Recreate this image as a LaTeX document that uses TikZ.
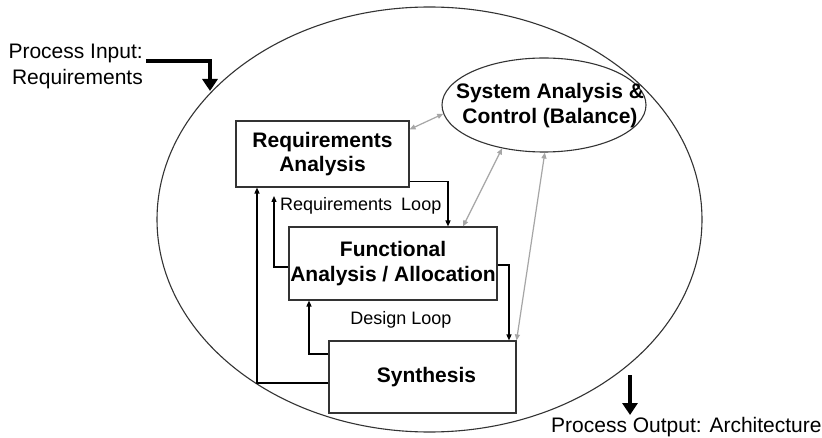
\documentclass[tikz,border=0pt]{standalone}
\usepackage{fontspec}
\setmainfont{Liberation Sans}
\usetikzlibrary{shapes.geometric,arrows.meta}
\begin{document}
\begin{tikzpicture}[x=1pt,y=-1pt,
  box/.style={draw=black!80,line width=1.1pt,rectangle,inner sep=0pt,align=center,
              font=\fontsize{21}{24.5}\selectfont\bfseries},
  boldtext/.style={inner sep=0pt,align=center,font=\fontsize{21}{25}\selectfont\bfseries},
  loopflow/.style={line width=1.3pt,-{Triangle[width=5pt,length=6pt]}},
  balance/.style={draw=black!35,line width=1.2pt,
                  {Triangle[width=5pt,length=6pt]}-{Triangle[width=5pt,length=6pt]}},
  bigflow/.style={line width=4pt,-{Triangle[width=15pt,length=12pt]}},
  lbl/.style={inner sep=0pt,font=\fontsize{18}{21}\selectfont}]
\useasboundingbox (0,0) rectangle (822,438);
\clip (0,0) rectangle (822,438);
\fill[white] (0,0) rectangle (822,438);

% outer process boundary
\node[ellipse,draw=black!80,line width=1.1pt,minimum width=545pt,minimum height=425pt,
      inner sep=0pt] (process) at (429.5,219.5) {};

% process steps
\node[box,minimum width=173pt,minimum height=66pt] (ra) at (322.5,154) {Requirements\\Analysis};
\node[box,minimum width=208pt,minimum height=73pt] (fa) at (393,263.5) {Functional\\Analysis / Allocation};
\node[box,minimum width=187pt,minimum height=72pt] (sy) at (422.5,377) {\hspace*{8pt}Synthesis};

% system analysis and control
\node[ellipse,draw=black!80,line width=1.1pt,minimum width=204pt,minimum height=94pt,
      inner sep=0pt] (sa) at (544,105) {};
\node[boldtext] (satext) at (550,106) {System Analysis \&\\Control (Balance)};

% loops between the steps
\coordinate (rltip) at (274,196);
\draw[loopflow] ([yshift=6pt]ra.south east) -| ([xshift=55pt]fa.north);
\draw[loopflow] ([yshift=-3.5pt]fa.west) -| (rltip);
\draw[loopflow] ([yshift=-6pt]sy.west) -| ([xshift=-65.5pt]ra.south);
\draw[loopflow] ([yshift=23pt]sy.west) -| ([xshift=-84pt]fa.south);
\draw[loopflow] ([yshift=-1.5pt]fa.east) -| ([xshift=86.5pt]sy.north);

\node[lbl,anchor=west] (rl) at (280,206) {Requirements\hspace{9pt}Loop};
\node[lbl] (dl) at (401,320) {Design Loop};

% balance links
\draw[balance] ([yshift=-9pt]ra.north east) -- (sa.185);
\draw[balance] ([xshift=70pt]fa.north) -- (sa.226);
\draw[balance] (sy.north east) -- (sa.271);

% process input
\node[inner sep=0pt,align=right,font=\fontsize{21}{26}\selectfont,anchor=east] (pin)
      at (143,66) {Process Input:\\Requirements};
\coordinate (pintip) at (210,91);
\draw[bigflow] ([xshift=3pt,yshift=5pt]pin.east) -| (pintip);

% process output
\node[inner sep=0pt,anchor=base west,font=\fontsize{21}{25}\selectfont] (pout)
      at (551,432) {Process Output: Architecture};
\coordinate (potop) at (630,375);
\coordinate (potip) at (630,415);
\draw[bigflow] (potop) -- (potip);
\end{tikzpicture}
\end{document}
